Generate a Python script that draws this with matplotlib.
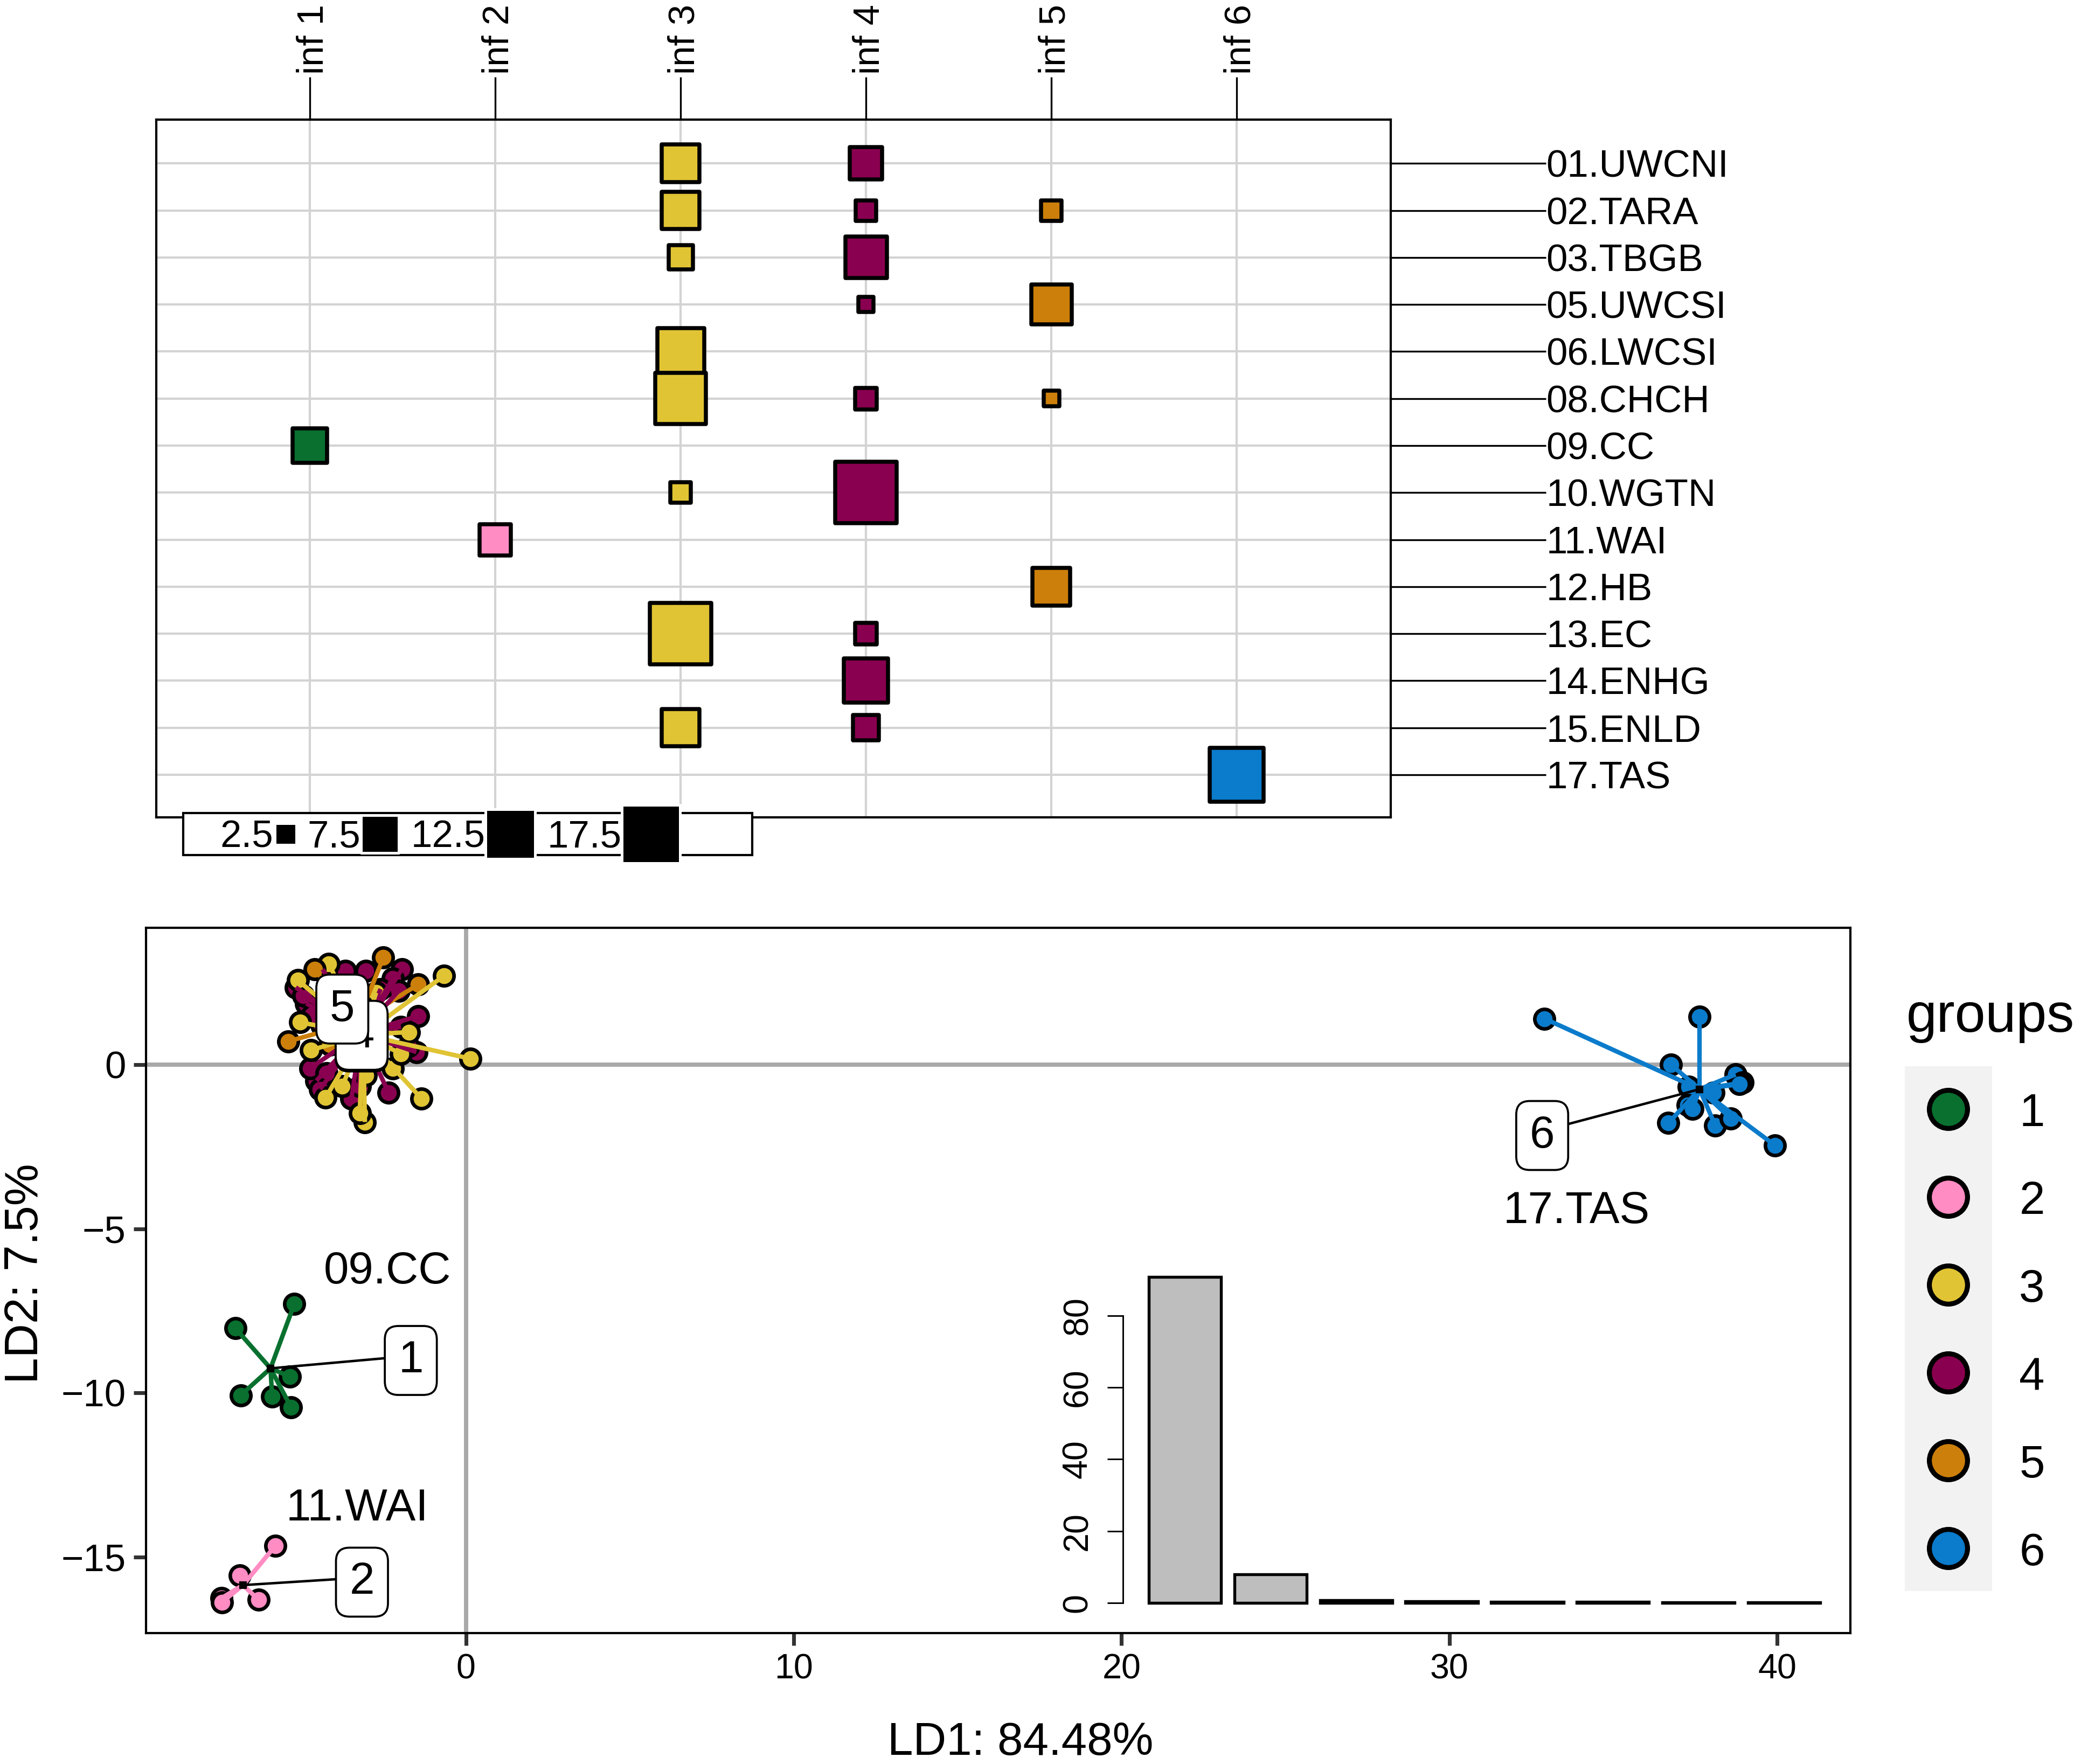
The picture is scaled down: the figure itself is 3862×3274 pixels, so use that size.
import numpy as np
import matplotlib
matplotlib.use('Agg')
import matplotlib.pyplot as plt
from matplotlib.patches import Rectangle

plt.rcParams['font.family'] = ['Liberation Sans', 'DejaVu Sans']

W, H = 3862, 3274

# ---- balloon table (top panel)
populations = ['01.UWCNI', '02.TARA', '03.TBGB', '05.UWCSI', '06.LWCSI', '08.CHCH', '09.CC',
               '10.WGTN', '11.WAI', '12.HB', '13.EC', '14.ENHG', '15.ENLD', '17.TAS']
clusters = ['inf 1', 'inf 2', 'inf 3', 'inf 4', 'inf 5', 'inf 6']
#Every row: population index, cluster number, count
inf1_pop, inf1_val = [6], [7.3]
inf2_pop, inf2_val = [8], [5.8]
inf3_pop, inf3_val = [0, 1, 2, 4, 5, 7, 10, 12], [8.4, 8.4, 3.6, 13.0, 15.2, 2.6, 22.1, 8.4]
inf4_pop, inf4_val = [0, 1, 2, 3, 5, 7, 10, 11, 12], [6.3, 2.6, 10.2, 1.5, 2.9, 22.1, 2.9, 11.6, 4.0]
inf5_pop, inf5_val = [1, 3, 5, 9], [2.6, 9.6, 1.5, 8.4]
inf6_pop, inf6_val = [13], [16.8]
legend_vals = [2.5, 7.5, 12.5, 17.5]

# ---- DAPC scatter (bottom panel)
g1_x = [-5.23, -7.03, -5.37, -6.87, -5.91, -5.33]
g1_y = [-7.28, -8.03, -9.50, -10.07, -10.10, -10.44]
g2_x = [-5.82, -6.90, -6.32, -7.46, -7.44]
g2_y = [-14.66, -15.55, -16.30, -16.25, -16.37]
g3_x = [-0.66, 0.14, -1.35, -3.08, -3.24, -4.28, -3.77, -2.23, -4.72, -5.06,
        -4.18, -5.13, -2.74, -1.73, -1.98, -3.05, -4.10]
g3_y = [2.71, 0.18, -1.04, -1.75, -1.48, -1.01, -0.66, -0.11, 0.44, 1.29,
        3.07, 2.57, 2.19, 0.99, 0.33, -0.33, 2.40]
g4_x = [-5.19, -4.87, -1.95, -2.23, -1.45, -1.98, -1.51, -2.36, -3.49, -4.56, -4.75,
        -3.68, -3.05, -4.37, -4.25, -3.24, -2.60, -4.40, -4.95, -4.70, -4.45, -1.75, -2.05]
g4_y = [2.35, 1.86, 2.90, 2.63, 1.48, 1.15, 0.38, -0.85, -1.04, -0.49, -0.11,
        2.85, 2.85, 2.90, -0.27, -0.66, 2.30, 1.20, 2.10, 1.50, -0.75, 0.55, 2.25]
g5_x = [-2.52, -5.41, -1.45, -4.62, -4.15]
g5_y = [3.26, 0.71, 2.44, 2.90, 0.60]
g6_x = [32.90, 37.63, 36.76, 38.73, 38.95, 38.85, 37.30, 38.05, 37.27, 37.42, 36.68, 38.11, 38.58, 39.93]
g6_y = [1.40, 1.45, 0.00, -0.30, -0.55, -0.60, -0.68, -0.85, -1.23, -1.34, -1.78, -1.86, -1.64, -2.46]
center_x = [-5.96, -6.80, -3.14, -3.20, -3.30, 37.63]
center_y = [-9.25, -15.85, 0.91, 0.95, 1.30, -0.75]
group_names = ['1', '2', '3', '4', '5', '6']
group_colors = ['#09702F', '#FF8CC3', '#E0C434', '#8A0050', '#CC7F0A', '#0B7BCB']

# ---- eigenvalue inset
eig_vals = [90.8, 8.0, 0.7, 0.4, 0.3, 0.3, 0.2, 0.1]
eig_ticks = [0, 20, 40, 60, 80]


def px_axes(fig, x0, y0, x1, y1):
    #Axes from reference pixel corners (y counted from the top)
    return fig.add_axes([x0 / W, 1 - y1 / H, (x1 - x0) / W, (y1 - y0) / H])


def draw_table(fig):
    ax = px_axes(fig, 290, 222, 2581, 1517)
    ax.set_xlim(0.172, 6.83)
    ax.set_ylim(13.906, -0.931)
    ax.set_axisbelow(True)
    ax.grid(True, color='#D3D3D3', lw=1.0)
    rows = [(inf1_pop, inf1_val), (inf2_pop, inf2_val), (inf3_pop, inf3_val),
            (inf4_pop, inf4_val), (inf5_pop, inf5_val), (inf6_pop, inf6_val)]
    for i, (pop, val) in enumerate(rows):
        #Square side grows with the root of the count, in points
        sizes = (5.91 * np.sqrt(val) - 0.4) ** 2
        ax.scatter([i + 1] * len(pop), pop, s=sizes, marker='s', c=group_colors[i],
                   edgecolors='black', linewidths=1.8, zorder=3)
    ax.xaxis.tick_top()
    ax.yaxis.tick_right()
    ax.set_xticks(range(1, 7), clusters, rotation=90, rotation_mode='anchor', ha='left', va='center_baseline')
    ax.set_yticks(range(len(populations)), populations, va='center_baseline')
    ax.tick_params(axis='x', length=19, width=0.8, pad=1.2, labelsize=16.5)
    ax.tick_params(axis='y', length=69, width=0.8, pad=0.3, labelsize=17)
    for s in ax.spines.values():
        s.set_linewidth(1.0)


def draw_scatter(fig):
    ax = px_axes(fig, 271, 1722, 3434, 3031)
    ax.set_xlim(-9.757, 42.23)
    ax.set_ylim(-17.31, 4.165)
    ax.axhline(0, color='#A9A9A9', lw=1.9, zorder=1)
    ax.axvline(0, color='#A9A9A9', lw=1.9, zorder=1)
    xs = [g1_x, g2_x, g3_x, g4_x, g5_x, g6_x]
    ys = [g1_y, g2_y, g3_y, g4_y, g5_y, g6_y]
    #Purple sits under the yellow and orange points in the reference
    for order, i in enumerate([0, 1, 3, 2, 4, 5]):
        ax.scatter(xs[i], ys[i], s=76, c=group_colors[i], edgecolors='black',
                   linewidths=1.6, zorder=3 + order * 0.01)
    for order, i in enumerate([0, 1, 4, 3, 2, 5]):
        for x, y in zip(xs[i], ys[i]):
            ax.plot([center_x[i], x], [center_y[i], y], color=group_colors[i], lw=2.0,
                    solid_capstyle='butt', zorder=4 + order * 0.01)

    label_x = [-1.68, -3.17, -3.18, -3.18, -3.77, 32.83]
    label_y = [-8.87, -15.62, 0.98, 1.03, 1.83, -2.02]
    for i in range(6):
        ax.plot([label_x[i], center_x[i]], [label_y[i], center_y[i]], color='black', lw=1.1, zorder=5)
        ax.plot(center_x[i], center_y[i], marker='s', ms=2.5, color='black', zorder=5)
        ax.text(label_x[i], label_y[i], group_names[i], fontsize=20, ha='center', va='center_baseline',
                zorder=6 + i * 0.01,
                bbox=dict(boxstyle='round,pad=0.3,rounding_size=0.3', fc='white', ec='black', lw=0.9))

    ax.text(-2.39, -6.17, '09.CC', fontsize=20, ha='center', va='center_baseline')
    ax.text(-3.31, -13.38, '11.WAI', fontsize=20, ha='center', va='center_baseline')
    ax.text(33.87, -4.33, '17.TAS', fontsize=20, ha='center', va='center_baseline')

    ax.set_xticks([0, 10, 20, 30, 40])
    ax.set_yticks([-15, -10, -5, 0])
    ax.tick_params(length=5.5, width=1.7, color='#333333', pad=3.5)
    ax.tick_params(axis='x', labelsize=15.5)
    ax.tick_params(axis='y', labelsize=17)
    for s in ax.spines.values():
        s.set_linewidth(1.0)


def draw_inset(fig):
    ax = px_axes(fig, 2084, 2350, 3400, 2975)
    ax.set_facecolor('none')
    ax.patch.set_alpha(0)
    ax.set_xlim(-0.724, 7.56)
    ax.set_ylim(0, 93.8)
    ax.bar(range(len(eig_vals)), eig_vals, width=0.845, color='#BEBEBE', edgecolor='black',
           linewidth=1.3, clip_on=False)
    for name in ['top', 'right', 'bottom']:
        ax.spines[name].set_visible(False)
    ax.spines['left'].set_bounds(0, 80)
    ax.spines['left'].set_linewidth(0.7)
    ax.set_xticks([])
    ax.set_yticks(eig_ticks, [str(t) for t in eig_ticks], rotation=90, rotation_mode='anchor',
                  ha='center', va='baseline')
    ax.tick_params(axis='y', length=7, width=0.7, labelsize=15.5, pad=9)


def draw_overlay(fig):
    #Whole-figure axes in reference pixels for the two legends and the axis titles
    ov = fig.add_axes([0, 0, 1, 1], zorder=10)
    ov.set_xlim(0, W)
    ov.set_ylim(H, 0)
    ov.axis('off')

    # size legend under the table
    ov.add_patch(Rectangle((340, 1509), 1056, 78, fc='white', ec='black', lw=1.0))
    legend_text_x = [458, 620, 832, 1085]
    legend_mark_x = [530, 705, 947, 1208]
    for v, tx, mx in zip(legend_vals, legend_text_x, legend_mark_x):
        ov.scatter(mx, 1548, s=(6.2 * np.sqrt(v)) ** 2, marker='s', c='black', edgecolors='white', linewidths=1.2)
        ov.text(tx, 1547, str(v), fontsize=17, ha='center', va='center_baseline')

    # group legend
    key_y = [2059, 2222, 2385, 2548, 2711, 2874]
    ov.add_patch(Rectangle((3535, 1979), 162, 974, fc='#F2F2F2', ec='none'))
    ov.scatter([3616] * 6, key_y, s=289, c=group_colors, edgecolors='black', linewidths=2.2)
    for name, y in zip(group_names, key_y):
        ov.text(3771, y, name, fontsize=20.5, ha='center', va='center_baseline')
    ov.text(3538, 1915, 'groups', fontsize=24.5, ha='left', va='baseline')

    ov.text(1894, 3226, 'LD1: 84.48%', fontsize=20.5, ha='center', va='center_baseline')
    ov.text(39, 2364, 'LD2: 7.5%', fontsize=21, rotation=90, rotation_mode='anchor',
            ha='center', va='center_baseline')


def main():
    fig = plt.figure(figsize=(W / 300, H / 300), dpi=300)
    draw_table(fig)
    draw_scatter(fig)
    draw_inset(fig)
    draw_overlay(fig)
    fig.savefig('out.png', dpi=300)


if __name__ == "__main__":
    main()
